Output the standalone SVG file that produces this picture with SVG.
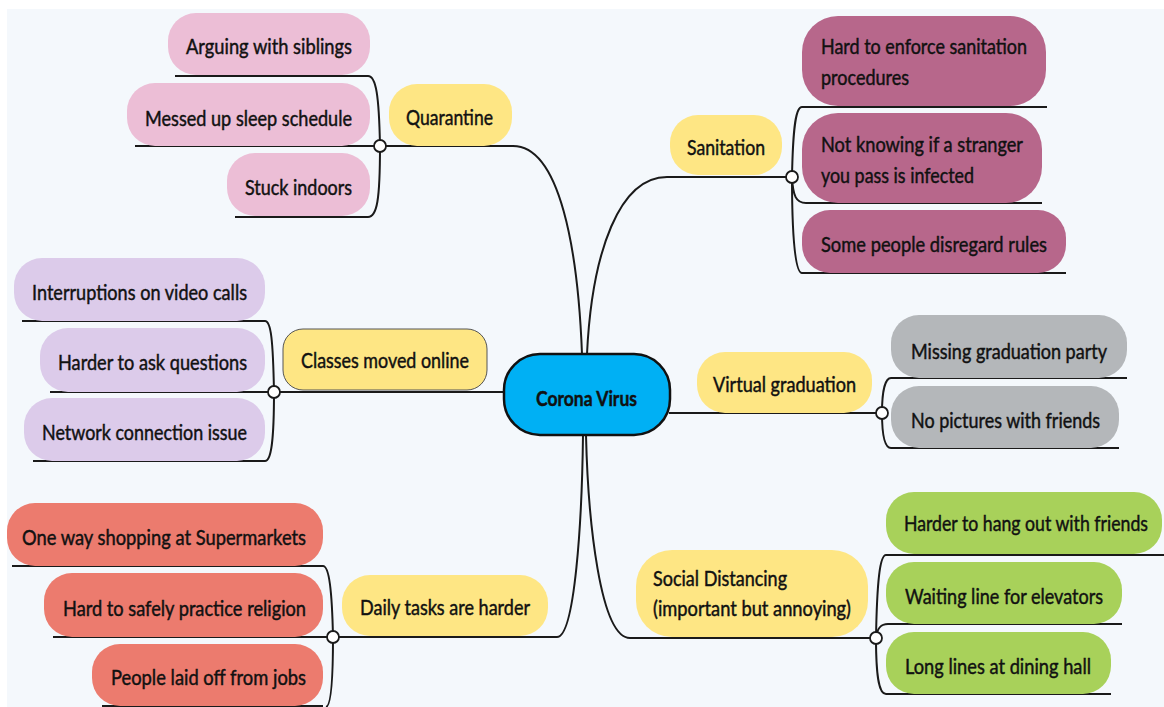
<svg xmlns="http://www.w3.org/2000/svg" width="1164" height="707" viewBox="0 0 1164 707">
<style>
text{font-family:Lato,"Liberation Sans",sans-serif;font-size:21px;fill:#111;stroke:#111;stroke-width:0.45px;}
.c{fill:none;stroke:#1a1a1a;stroke-width:2;}
.dot{fill:#fff;stroke:#1a1a1a;stroke-width:1.8;}
.y{fill:#fee684;}
.pk{fill:#ecbed6;}
.mv{fill:#b7678b;}
.lv{fill:#dccbea;}
.gy{fill:#b4b7ba;}
.sm{fill:#ec7b6e;}
.gr{fill:#a8d15a;}
</style>
<rect x="0" y="0" width="1164" height="707" fill="#ffffff"/>
<rect x="7" y="9" width="1157" height="698" fill="#f4f8fc"/>

<g id="connectors">
<path class="c" d="M380 146 H513 C560 146 578 250 582 354"/>
<path class="c" d="M792 177 H667 C620 177 592 250 587 354"/>
<path class="c" d="M274 392 H505"/>
<path class="c" d="M669 413 H882"/>
<path class="c" d="M333 637 H557 C575 637 582 520 583 435"/>
<path class="c" d="M876 638 H630 C600 638 588 520 586 435"/>
<path class="c" d="M175 76 H368 C376 76 379 95 380 146 C380 200 377 217 368 217 H235"/>
<path class="c" d="M135 146 H380"/>
<path class="c" d="M1047 107 H802 C796 107 793 125 792 177 C792 235 795 273 802 273 H1066"/>
<path class="c" d="M792 177 C793 196 796 203 806 203 H1042"/>
<path class="c" d="M22 321 H265 C271 321 273 340 274 392 C274 442 271 461 265 461 H33"/>
<path class="c" d="M50 392 H274"/>
<path class="c" d="M1127 378 H891 C885 378 882 392 882 413 C882 436 885 448 891 448 H1119"/>
<path class="c" d="M12 566 H323 C329 566 332 590 333 637 C333 682 331 706 326 707"/>
<path class="c" d="M53 637 H333"/>
<path class="c" d="M102 706 H323"/>
<path class="c" d="M1164 555 H886 C880 555 877 580 876 638 C876 682 880 694 886 694 H1111"/>
<path class="c" d="M876 638 C877 629 880 624 888 624 H1122"/>
<circle class="dot" cx="380" cy="146" r="6"/>
<circle class="dot" cx="792" cy="177" r="6"/>
<circle class="dot" cx="274" cy="392" r="6"/>
<circle class="dot" cx="882" cy="413" r="6"/>
<circle class="dot" cx="333" cy="637" r="6"/>
<circle class="dot" cx="876" cy="638" r="6"/>
</g>

<g id="center">
<rect x="504" y="354" width="166" height="81" rx="36" fill="#00b0f4" stroke="#111" stroke-width="2.5"/>
<text x="536" y="406" textLength="101" lengthAdjust="spacingAndGlyphs" font-weight="bold" font-size="22">Corona Virus</text>
</g>

<g id="quarantine">
<rect class="y" x="389" y="84" width="123" height="62" rx="28"/>
<text x="406" y="125" textLength="87" lengthAdjust="spacingAndGlyphs">Quarantine</text>
</g>
<g id="arguing">
<rect class="pk" x="168" y="13" width="202" height="62" rx="28"/>
<text x="186" y="54" textLength="166" lengthAdjust="spacingAndGlyphs">Arguing with siblings</text>
</g>
<g id="messed">
<rect class="pk" x="127" y="83" width="243" height="63" rx="28"/>
<text x="145" y="126" textLength="207" lengthAdjust="spacingAndGlyphs">Messed up sleep schedule</text>
</g>
<g id="stuck">
<rect class="pk" x="227" y="153" width="143" height="63" rx="28"/>
<text x="245" y="195" textLength="107" lengthAdjust="spacingAndGlyphs">Stuck indoors</text>
</g>

<g id="sanitation">
<rect class="y" x="670" y="115" width="112" height="60" rx="28"/>
<text x="687" y="155" textLength="78" lengthAdjust="spacingAndGlyphs">Sanitation</text>
</g>
<g id="enforce">
<rect class="mv" x="802" y="16" width="244" height="90" rx="36"/>
<text x="821" y="54" textLength="206" lengthAdjust="spacingAndGlyphs">Hard to enforce sanitation</text>
<text x="821" y="85" textLength="88" lengthAdjust="spacingAndGlyphs">procedures</text>
</g>
<g id="stranger">
<rect class="mv" x="802" y="113" width="240" height="90" rx="36"/>
<text x="821" y="152" textLength="202" lengthAdjust="spacingAndGlyphs">Not knowing if a stranger</text>
<text x="821" y="183" textLength="153" lengthAdjust="spacingAndGlyphs">you pass is infected</text>
</g>
<g id="disregard">
<rect class="mv" x="802" y="210" width="264" height="63" rx="28"/>
<text x="821" y="252" textLength="226" lengthAdjust="spacingAndGlyphs">Some people disregard rules</text>
</g>

<g id="classes">
<rect class="y" x="283" y="329" width="204" height="61" rx="20" stroke="#555" stroke-width="1"/>
<text x="301" y="368" textLength="168" lengthAdjust="spacingAndGlyphs">Classes moved online</text>
</g>
<g id="interruptions">
<rect class="lv" x="14" y="258" width="251" height="63" rx="28"/>
<text x="32" y="300" textLength="215" lengthAdjust="spacingAndGlyphs">Interruptions on video calls</text>
</g>
<g id="questions">
<rect class="lv" x="40" y="328" width="225" height="64" rx="28"/>
<text x="58" y="370" textLength="189" lengthAdjust="spacingAndGlyphs">Harder to ask questions</text>
</g>
<g id="network">
<rect class="lv" x="24" y="398" width="241" height="63" rx="28"/>
<text x="42" y="440" textLength="205" lengthAdjust="spacingAndGlyphs">Network connection issue</text>
</g>

<g id="virtual">
<rect class="y" x="697" y="352" width="175" height="61" rx="28"/>
<text x="713" y="392" textLength="143" lengthAdjust="spacingAndGlyphs">Virtual graduation</text>
</g>
<g id="party">
<rect class="gy" x="891" y="315" width="236" height="63" rx="28"/>
<text x="911" y="359" textLength="196" lengthAdjust="spacingAndGlyphs">Missing graduation party</text>
</g>
<g id="pictures">
<rect class="gy" x="891" y="386" width="228" height="62" rx="28"/>
<text x="911" y="428" textLength="189" lengthAdjust="spacingAndGlyphs">No pictures with friends</text>
</g>

<g id="daily">
<rect class="y" x="342" y="575" width="206" height="61" rx="28"/>
<text x="360" y="615" textLength="170" lengthAdjust="spacingAndGlyphs">Daily tasks are harder</text>
</g>
<g id="shopping">
<rect class="sm" x="7" y="503" width="316" height="63" rx="28"/>
<text x="22" y="545" textLength="284" lengthAdjust="spacingAndGlyphs">One way shopping at Supermarkets</text>
</g>
<g id="religion">
<rect class="sm" x="44" y="573" width="279" height="64" rx="28"/>
<text x="63" y="616" textLength="243" lengthAdjust="spacingAndGlyphs">Hard to safely practice religion</text>
</g>
<g id="jobs">
<rect class="sm" x="92" y="644" width="231" height="62" rx="28"/>
<text x="111" y="685" textLength="195" lengthAdjust="spacingAndGlyphs">People laid off from jobs</text>
</g>

<g id="social">
<rect class="y" x="636" y="550" width="232" height="87" rx="36"/>
<text x="653" y="586" textLength="134" lengthAdjust="spacingAndGlyphs">Social Distancing</text>
<text x="653" y="616" textLength="198" lengthAdjust="spacingAndGlyphs">(important but annoying)</text>
</g>
<g id="hangout">
<rect class="gr" x="886" y="492" width="276" height="62" rx="28"/>
<text x="904" y="531" font-size="19.5" textLength="244" lengthAdjust="spacingAndGlyphs">Harder to hang out with friends</text>
</g>
<g id="elevators">
<rect class="gr" x="886" y="562" width="236" height="62" rx="28"/>
<text x="905" y="604" textLength="198" lengthAdjust="spacingAndGlyphs">Waiting line for elevators</text>
</g>
<g id="dining">
<rect class="gr" x="886" y="632" width="225" height="62" rx="28"/>
<text x="905" y="674" textLength="186" lengthAdjust="spacingAndGlyphs">Long lines at dining hall</text>
</g>
</svg>
